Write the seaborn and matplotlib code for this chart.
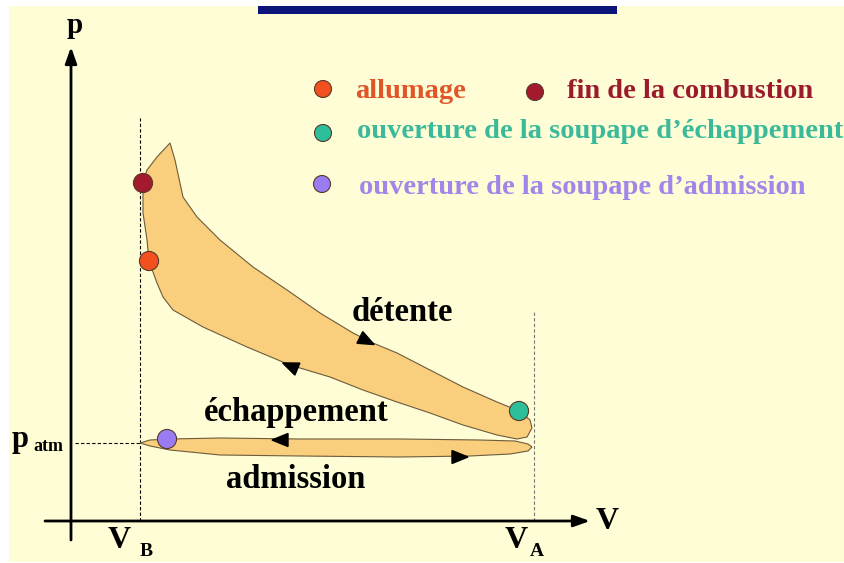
import matplotlib
matplotlib.use("Agg")
import matplotlib.pyplot as plt
import seaborn as sns
import pandas as pd
import numpy as np
from matplotlib.patches import Rectangle

# p-V diagram of the 4-stroke cycle, in diagram units
# (V counted right of the p axis, p counted above the V axis)
upper_loop_V = [99, 104, 112, 126, 149, 182, 216, 249, 282, 302, 326, 359, 392, 426, 448,
                459, 461, 456, 446, 426, 392, 359, 326, 292, 259, 219, 176, 132, 102, 92,
                86, 78, 76, 72, 72, 76, 86, 99]
upper_loop_p = [378, 361, 324, 304, 281, 254, 231, 208, 188, 178, 168, 151, 134, 119, 110,
                101, 93, 84, 82, 86, 96, 108, 119, 131, 144, 156, 174, 194, 211, 224,
                238, 260, 281, 308, 338, 351, 364, 378]

lower_loop_V = [69, 79, 99, 149, 229, 329, 409, 444, 457, 461, 457, 439, 399, 329, 229, 149, 99, 79, 69]
lower_loop_p = [78, 81, 82, 83, 82, 82, 81, 80, 77, 74, 70, 67, 65, 64, 65, 66, 71, 75, 78]

V_B, V_A, P_ATM = 69, 463, 78

events = ["allumage", "fin de la combustion",
          "ouverture de la soupape d\u2019\u00e9chappement",
          "ouverture de la soupape d\u2019admission"]
event_V = [78, 72, 448, 96]
event_p = [260, 338, 110, 82]
dot_colors = ["#F2501F", "#A3192D", "#2DBE9A", "#9A7CF2"]
text_colors = ["#E0562B", "#9B1B2C", "#3BBA9B", "#A185E8"]

# direction arrows on the cycle: position and direction
arrow_V = [296, 219, 209, 389]
arrow_p = [180, 155, 81, 64]
arrow_dV = [20, -43, -1, 1]
arrow_dp = [-10, 18, 0, 0]

sns.set_theme(style="white")
plt.rcParams["font.family"] = ["Liberation Serif", "DejaVu Serif"]
plt.rcParams["text.color"] = "black"

fig = plt.figure(figsize=(8.45, 5.63), dpi=100, facecolor="white")
ax = fig.add_axes([0, 0, 1, 1])
ax.set_xlim(-71, 774)
ax.set_ylim(-42, 521)
ax.set_facecolor("none")
ax.axis("off")

# slide background and title bar
fig.add_artist(Rectangle((9 / 845, 1 / 563), 836 / 845, 556 / 563,
                         transform=fig.transFigure, facecolor="#FEFDD5", edgecolor="none", zorder=0))
ax.add_patch(Rectangle((187, 507), 359, 8, facecolor="#0B1478", edgecolor="none"))

# axes with arrows
ax.annotate("", xy=(0, 474), xytext=(0, -19),
            arrowprops=dict(arrowstyle="-|>,head_length=0.7,head_width=0.25", color="black",
                            lw=2, shrinkA=0, shrinkB=0, mutation_scale=14))
ax.annotate("", xy=(519, 0), xytext=(-26, 0),
            arrowprops=dict(arrowstyle="-|>,head_length=0.7,head_width=0.25", color="black",
                            lw=2, shrinkA=0, shrinkB=0, mutation_scale=14))

# reference lines
ax.plot([V_B, V_B], [0, 403], color="black", lw=0.8, ls=(0, (3, 2)), zorder=1)
ax.plot([V_A, V_A], [0, 209], color="#777777", lw=0.8, ls=(0, (3, 2)), zorder=1)
ax.plot([4, V_B], [P_ATM, P_ATM], color="black", lw=0.8, ls=(0, (3, 2)), zorder=1)

# cycle loops
ax.fill(lower_loop_V, lower_loop_p, facecolor="#F9CE7C", edgecolor="#6E5B3C", lw=0.8, zorder=2)
ax.fill(upper_loop_V, upper_loop_p, facecolor="#F9CE7C", edgecolor="#6E5B3C", lw=0.8, zorder=3)

# arrow heads (data units are square here, so a plain triangle works)
head_len, head_w = 16, 13
for x, y, dx, dy in zip(arrow_V, arrow_p, arrow_dV, arrow_dp):
    n = np.hypot(dx, dy)
    ux, uy = dx / n, dy / n
    nx, ny = -uy, ux
    tip = (x + head_len / 2 * ux, y + head_len / 2 * uy)
    b1 = (x - head_len / 2 * ux + head_w / 2 * nx, y - head_len / 2 * uy + head_w / 2 * ny)
    b2 = (x - head_len / 2 * ux - head_w / 2 * nx, y - head_len / 2 * uy - head_w / 2 * ny)
    ax.fill([tip[0], b1[0], b2[0]], [tip[1], b1[1], b2[1]], color="black", zorder=5)

# event points
df = pd.DataFrame({"V": event_V, "p": event_p, "event": events})
sns.scatterplot(data=df, x="V", y="p", hue="event", palette=dict(zip(events, dot_colors)),
                s=190, edgecolor="#5A3A2A", linewidth=0.8, legend=False, ax=ax, zorder=6)

# legend, drawn by hand
leg_dot_V = [252, 464, 252, 251]
leg_dot_p = [432, 429, 388, 337]
leg_txt_V = [284, 496, 286, 288]
leg_txt_p = [423, 423, 383, 327]
ax.scatter(leg_dot_V, leg_dot_p, s=150, c=dot_colors, edgecolors="#5A3A2A", linewidths=0.8, zorder=6)
for tx, ty, label, col in zip(leg_txt_V, leg_txt_p, events, text_colors):
    ax.text(tx, ty, label, color=col, fontsize=20.5, fontweight="bold", va="baseline", ha="left")

# stroke labels
ax.text(331, 200, "d\u00e9tente", fontsize=23.5, fontweight="bold", ha="center", va="baseline")
ax.text(225, 100, "\u00e9chappement", fontsize=23.5, fontweight="bold", ha="center", va="baseline")
ax.text(225, 33, "admission", fontsize=23.5, fontweight="bold", ha="center", va="baseline")

# axis labels
ax.text(-4, 488, "p", fontsize=21, fontweight="bold", ha="left", va="baseline")
ax.text(536, -8, "V", fontsize=23, fontweight="bold", ha="center", va="baseline")
ax.text(-59, 74, "p", fontsize=22, fontweight="bold", ha="left", va="baseline")
ax.text(-38, 70, "atm", fontsize=13, fontweight="bold", ha="left", va="baseline")
ax.text(48, -27, "V", fontsize=23, fontweight="bold", ha="center", va="baseline")
ax.text(69, -35, "B", fontsize=14, fontweight="bold", ha="left", va="baseline")
ax.text(445, -27, "V", fontsize=23, fontweight="bold", ha="center", va="baseline")
ax.text(459, -35, "A", fontsize=14, fontweight="bold", ha="left", va="baseline")

fig.savefig("out.png", dpi=100)
